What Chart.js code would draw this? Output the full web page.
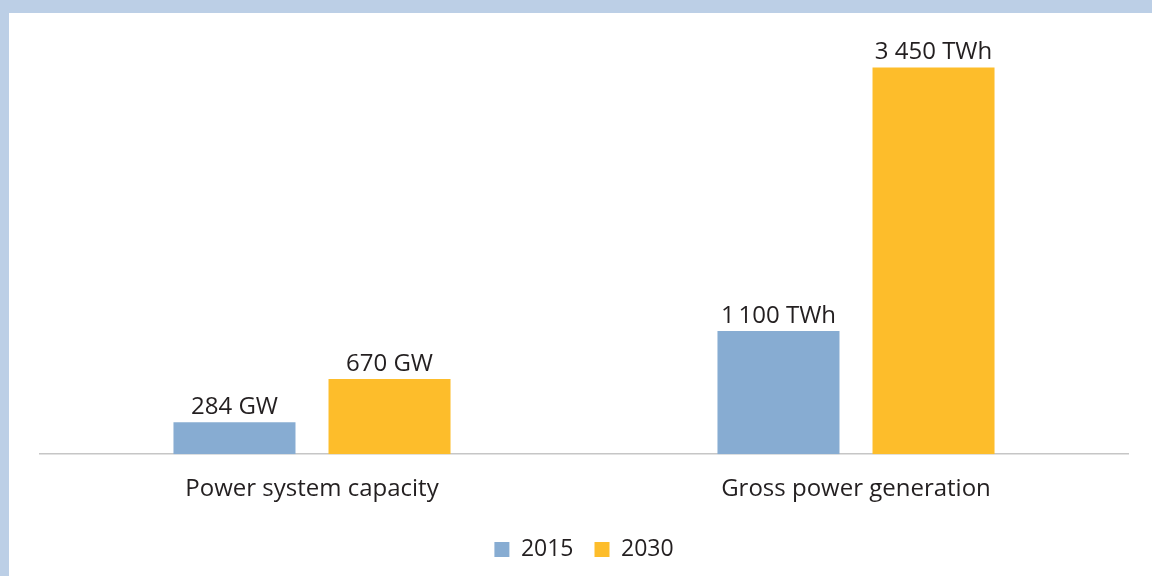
<!DOCTYPE html>
<html>
<head>
<meta charset="utf-8">
<script src="https://cdn.jsdelivr.net/npm/chart.js@4"></script>
<style>
  html, body { margin: 0; padding: 0; }
  body { width: 1152px; height: 576px; background: #bccfe6; position: relative; overflow: hidden; }
  #wrap { position: absolute; left: 9px; top: 13px; width: 1143px; height: 563px; background: #fff; }
</style>
</head>
<body>
<div id="wrap"><canvas id="chart"></canvas></div>
<script>
const categories = ['Power system capacity', 'Gross power generation'];
const values2015 = [284, 1100];
const values2030 = [670, 3450];
const labels2015 = ['284 GW', '1\u2009100 TWh'];
const labels2030 = ['670 GW', '3 450 TWh'];

const FONT = '"Open Sans", Lato, sans-serif';
const TEXT = '#231f20';

// value labels above each bar
const barLabels = {
    id: 'barLabels',
    afterDatasetsDraw(chart) {
        const ctx = chart.ctx;
        ctx.save();
        ctx.font = `24px ${FONT}`;
        ctx.fillStyle = TEXT;
        ctx.textAlign = 'center';
        ctx.textBaseline = 'bottom';
        chart.data.datasets.forEach((ds, i) => {
            chart.getDatasetMeta(i).data.forEach((bar, j) => {
                ctx.fillText(ds.valueLabels[j], bar.x, bar.y - 3);
            });
        });
        ctx.restore();
    }
};

new Chart(document.getElementById('chart'), {
    type: 'bar',
    data: {
        labels: categories,
        datasets: [
            { label: '2015', data: values2015, valueLabels: labels2015, backgroundColor: '#87acd2' },
            { label: '2030', data: values2030, valueLabels: labels2030, backgroundColor: '#fdbd2b' }
        ]
    },
    options: {
        responsive: true,
        maintainAspectRatio: false,
        animation: false,
        categoryPercentage: 0.57,
        barPercentage: 0.787,
        layout: { padding: { left: 31, right: 24, top: 4, bottom: 5 } },
        scales: {
            y: { min: 0, max: 3900, display: false },
            x: {
                grid: { display: false },
                border: { color: '#c6c6c6', width: 1.5 },
                ticks: { color: TEXT, font: { family: FONT, size: 24 }, padding: 13 }
            }
        },
        plugins: {
            legend: {
                position: 'bottom',
                labels: {
                    color: TEXT,
                    font: { family: FONT, size: 23 },
                    boxWidth: 15,
                    boxHeight: 15,
                    padding: 21
                }
            },
            tooltip: { enabled: false }
        }
    },
    plugins: [barLabels]
});
</script>
</body>
</html>
